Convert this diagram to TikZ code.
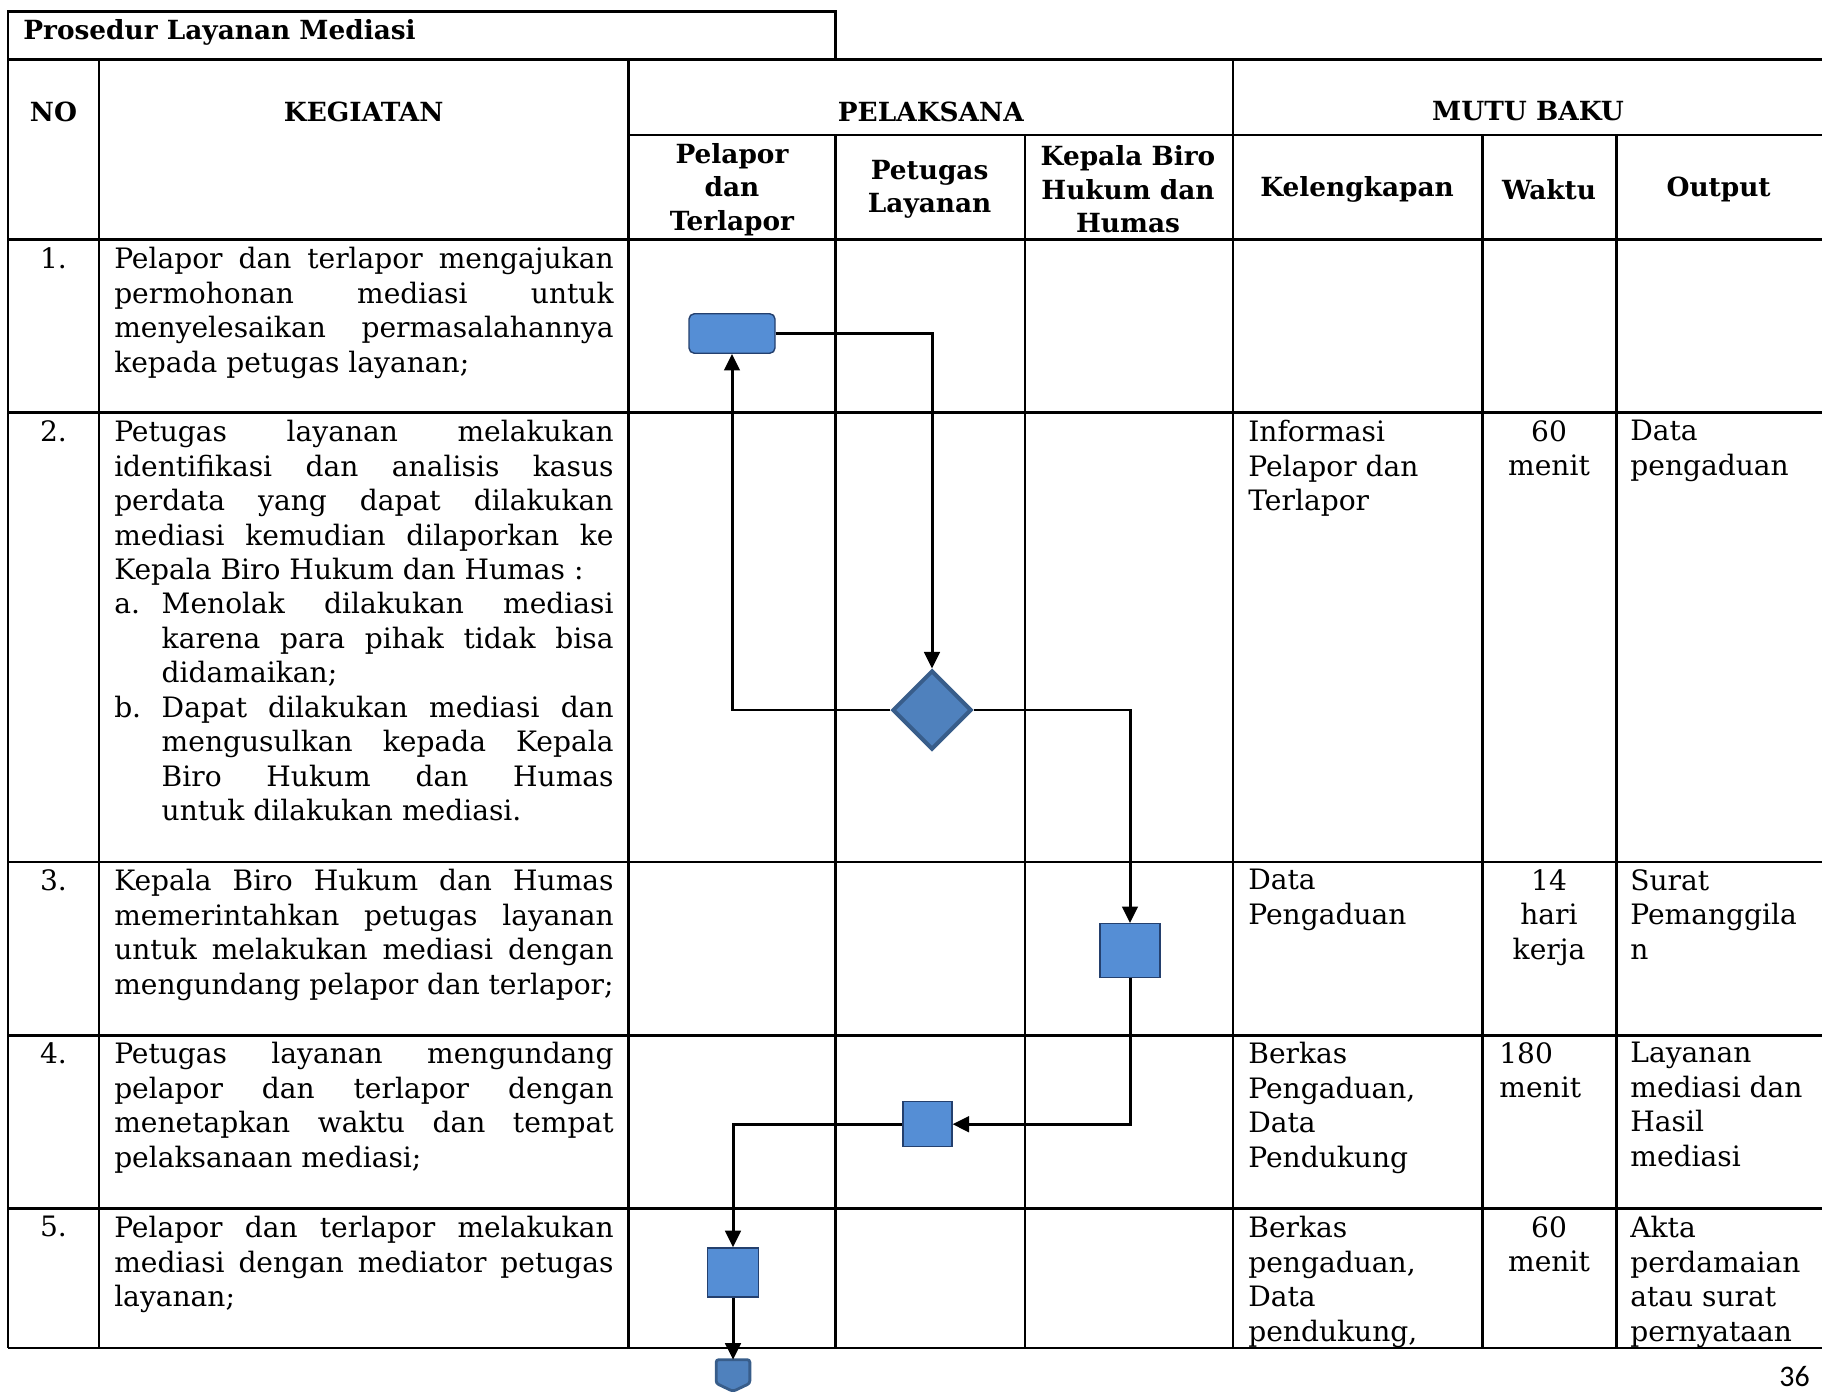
\documentclass[tikz,border=0pt]{standalone}
\usepackage{fontspec}
\setmainfont{DejaVu Serif}
\newfontfamily\pagefont{Carlito}
\usetikzlibrary{shapes.geometric, arrows.meta, positioning, calc}
\usepackage{xcolor}
\definecolor{boxblue}{RGB}{85,142,213}
\definecolor{boxedge}{RGB}{36,64,110}
\definecolor{deepblue}{RGB}{79,129,189}
\definecolor{edgeblue}{RGB}{56,93,138}
\setlength{\parindent}{0pt}
\hyphenpenalty=10000
\exhyphenpenalty=10000

\begin{document}
\begin{tikzpicture}[
    x=0.02cm, y=-0.02cm,
    grid/.style={line width=1.4pt},
    head/.style={font=\fontsize{15}{19}\selectfont\bfseries, align=center, inner sep=0pt},
    body/.style={font=\fontsize{16}{19.6}\selectfont, inner sep=0pt},
    kegiatan/.style={body, anchor=north west, text width=9.99cm, align=justify},
    isian/.style={body, anchor=north west, align=left},
    nomor/.style={body, anchor=north, align=center},
    proses/.style={rectangle, draw=boxedge, fill=boxblue, line width=0.8pt, inner sep=0pt, minimum width=#1},
    keputusan/.style={diamond, draw=edgeblue, fill=deepblue, line width=2.3pt, inner sep=0pt, minimum width=1.58cm, minimum height=1.58cm},
    alur/.style={-{Triangle[length=3.3mm, width=3.1mm]}, line width=1.7pt},
]
    \useasboundingbox (0,0) rectangle (1822,1392);

    % Table frame
    \draw[grid] (8.1,11.6) rectangle (835.5,59.3);
    \draw[grid] (8.1,59.3) -- (1822,59.3);
    \draw[grid] (628.6,134.8) -- (1822,134.8);
    \foreach \y in {239.4,412.5,862.2,1035.3,1208.5,1347.9}
        \draw[grid] (8.1,\y) -- (1822,\y);
    \foreach \x in {8.1,98.8,628.6,1232.9}
        \draw[grid] (\x,59.3) -- (\x,1347.9);
    \foreach \x in {835.5,1024.9,1482.7,1616.3}
        \draw[grid] (\x,134.8) -- (\x,1347.9);

    % Header
    \node[head, anchor=west] (judul) at (23,32.5) {Prosedur Layanan Mediasi};
    \node[head] (hno) at (53.5,111.5) {NO};
    \node[head] (hkeg) at (363.7,111.5) {KEGIATAN};
    \node[head] (hpel) at (930.8,111.5) {PELAKSANA};
    \node[head] (hmutu) at (1528,111.5) {MUTU BAKU};
    \node[head] (hpelapor) at (732,189.5) {Pelapor\\dan\\Terlapor};
    \node[head] (hpetugas) at (929.6,189.5) {Petugas\\Layanan};
    \node[head] (hkabiro) at (1128,189.5) {Kepala Biro\\Hukum dan\\Humas};
    \node[head] (hkel) at (1357,189.5) {Kelengkapan};
    \node[head] (hwaktu) at (1549,189.5) {Waktu};
    \node[head] (hout) at (1718.6,189.5) {Output};

    % Row 1
    \node[nomor] (no1) at (53.5,247) {1.};
    \node[kegiatan] (keg1) at (113.9,247) {Pelapor dan terlapor mengajukan\linebreak
        permohonan mediasi untuk\linebreak
        menyelesaikan permasalahannya\linebreak
        kepada petugas layanan;};

    % Row 2
    \node[nomor] (no2) at (53.5,420) {2.};
    \node[kegiatan] (keg2) at (113.9,420) {Petugas layanan melakukan\linebreak
        identifikasi dan analisis kasus\linebreak
        perdata yang dapat dilakukan\linebreak
        mediasi kemudian dilaporkan ke\linebreak
        Kepala Biro Hukum dan Humas :\par
        \hangindent=0.95cm\hangafter=1\makebox[0.95cm][l]{a.}Menolak dilakukan mediasi\linebreak
        karena para pihak tidak bisa\linebreak
        didamaikan;\par
        \hangindent=0.95cm\hangafter=1\makebox[0.95cm][l]{b.}Dapat dilakukan mediasi dan\linebreak
        mengusulkan kepada Kepala\linebreak
        Biro Hukum dan Humas\linebreak
        untuk dilakukan mediasi.\par};
    \node[isian] (kel2) at (1248,420) {Informasi\\Pelapor dan\\Terlapor};
    \node[nomor] (wkt2) at (1549,420) {60\\menit};
    \node[isian] (out2) at (1630,420) {Data\\pengaduan};

    % Row 3
    \node[nomor] (no3) at (53.5,869) {3.};
    \node[kegiatan] (keg3) at (113.9,869) {Kepala Biro Hukum dan Humas\linebreak
        memerintahkan petugas layanan\linebreak
        untuk melakukan mediasi dengan\linebreak
        mengundang pelapor dan terlapor;};
    \node[isian] (kel3) at (1248,869) {Data\\Pengaduan};
    \node[nomor] (wkt3) at (1549,869) {14\\hari\\kerja};
    \node[isian] (out3) at (1630,869) {Surat\\Pemanggila\\n};

    % Row 4
    \node[nomor] (no4) at (53.5,1042) {4.};
    \node[kegiatan] (keg4) at (113.9,1042) {Petugas layanan mengundang\linebreak
        pelapor dan terlapor dengan\linebreak
        menetapkan waktu dan tempat\linebreak
        pelaksanaan mediasi;};
    \node[isian] (kel4) at (1248,1042) {Berkas\\Pengaduan,\\Data\\Pendukung};
    \node[isian] (wkt4) at (1499,1042) {180\\menit};
    \node[isian] (out4) at (1630,1042) {Layanan\\mediasi dan\\Hasil\\mediasi};

    % Row 5
    \node[nomor] (no5) at (53.5,1216) {5.};
    \node[kegiatan] (keg5) at (113.9,1216) {Pelapor dan terlapor melakukan\linebreak
        mediasi dengan mediator petugas\linebreak
        layanan;};
    \node[isian] (kel5) at (1248,1216) {Berkas\\pengaduan,\\Data\\pendukung,};
    \node[nomor] (wkt5) at (1549,1216) {60\\menit};
    \node[isian] (out5) at (1630,1216) {Akta\\perdamaian\\atau surat\\pernyataan};

    % Flow symbols
    \node[proses=1.72cm, minimum height=0.79cm, rounded corners=3pt] (mulai) at (732,333.5) {};
    \node[keputusan] (cek) at (932,710) {};
    \node[proses=1.2cm, minimum height=1.07cm] (perintah) at (1130,950.5) {};
    \node[proses=0.98cm, minimum height=0.9cm] (undang) at (927.3,1124.2) {};
    \node[proses=1.02cm, minimum height=0.98cm] (mediasi) at (733,1272.4) {};
    % off-page connector
    \node[inner sep=0pt, minimum width=0.66cm, minimum height=0.62cm] (lanjut) at (733,1375.5) {};
    \draw[edgeblue, fill=deepblue, line width=1.6pt, rounded corners=1.5pt]
        (lanjut.north west) -- (lanjut.north east) -- ($(lanjut.south east)+(0,-8)$)
        -- (lanjut.south) -- ($(lanjut.south west)+(0,-8)$) -- cycle;

    % Arrows
    \draw[alur] (mulai.east) -| (cek.north);
    \draw[alur] (cek.west) -| (mulai.south);
    \draw[alur] (cek.east) -| (perintah.north);
    \draw[alur] (perintah.south) |- (undang.east);
    \draw[alur] (undang.west) -| (mediasi.north);
    \draw[alur] (mediasi.south) -- (lanjut.north);

    % Page number
    \node[font=\pagefont\fontsize{17}{20}\selectfont, anchor=east, inner sep=0pt] (hal) at (1810,1377) {36};
\end{tikzpicture}
\end{document}
